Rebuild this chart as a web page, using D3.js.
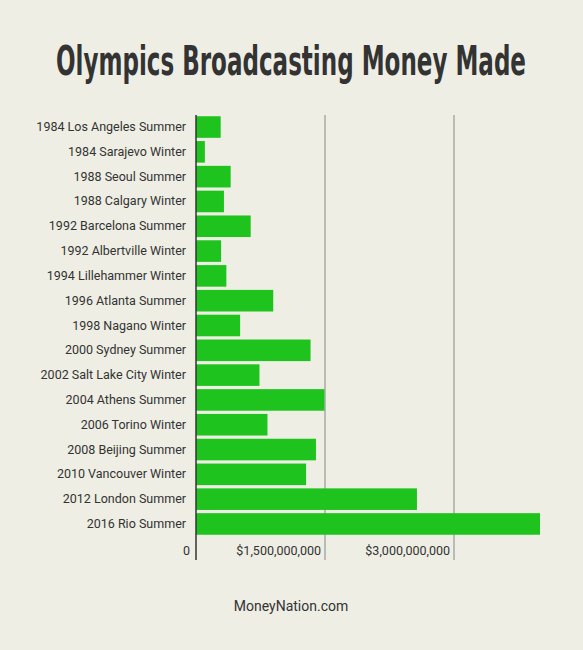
<!DOCTYPE html>
<html>
<head>
<meta charset="utf-8">
<style>body{margin:0;background:#eeeee4}</style>
</head>
<body>
<svg width="583" height="650"></svg>
<script src="https://d3js.org/d3.v7.min.js"></script>
<script>
var games = ["1984 Los Angeles Summer","1984 Sarajevo Winter","1988 Seoul Summer","1988 Calgary Winter",
  "1992 Barcelona Summer","1992 Albertville Winter","1994 Lillehammer Winter","1996 Atlanta Summer",
  "1998 Nagano Winter","2000 Sydney Summer","2002 Salt Lake City Winter","2004 Athens Summer",
  "2006 Torino Winter","2008 Beijing Summer","2010 Vancouver Winter","2012 London Summer","2016 Rio Summer"];
var money = [287e6,103e6,403e6,325e6,636e6,292e6,353e6,898e6,513e6,1332e6,738e6,1494e6,831e6,1395e6,1280e6,2569e6,4000e6];
var ticks = [0,1.5e9,3e9];

var svg = d3.select("svg");
svg.append("rect").attr("width",583).attr("height",650).attr("fill","#eeeee4");

var x = d3.scaleLinear().domain([0,1.5e9]).range([196,325]);
var y = d3.scaleBand().domain(games).range([115,536]).paddingInner(0.13).paddingOuter(0.05);

svg.append("text").attr("x",291).attr("y",75).attr("text-anchor","middle")
  .attr("font-family","DejaVu Sans Condensed, DejaVu Sans").attr("font-weight","bold")
  .attr("font-size",40).attr("fill","#333").attr("textLength",470).attr("lengthAdjust","spacingAndGlyphs")
  .text("Olympics Broadcasting Money Made");

svg.selectAll(".grid").data(ticks.slice(1)).enter().append("line")
  .attr("x1",d=>x(d)).attr("x2",d=>x(d)).attr("y1",115).attr("y2",560)
  .attr("stroke","#888").attr("stroke-width",1);

svg.selectAll(".bar").data(games).enter().append("rect")
  .attr("x",x(0)).attr("y",d=>y(d)).attr("height",y.bandwidth())
  .attr("width",(d,i)=>x(money[i])-x(0)).attr("fill","#1ec31e");

svg.append("line").attr("x1",x(0)).attr("x2",x(0)).attr("y1",115).attr("y2",560)
  .attr("stroke","#333").attr("stroke-width",1.5);

svg.selectAll(".lab").data(games).enter().append("text")
  .attr("x",186).attr("y",d=>y(d)+y.bandwidth()/2+4).attr("text-anchor","end")
  .attr("font-family","Roboto, sans-serif").attr("font-size",12.5).attr("fill","#333").text(d=>d);

var fmt = d=> d===0 ? "0" : "$"+d3.format(",")(d);
svg.selectAll(".tick").data(ticks).enter().append("text")
  .attr("x",d=> d===0 ? x(d)-6 : x(d)-4).attr("y",555).attr("text-anchor","end")
  .attr("font-family","Roboto, sans-serif").attr("font-size",12.5).attr("fill","#333").text(fmt);

svg.append("text").attr("x",291).attr("y",611).attr("text-anchor","middle")
  .attr("font-family","Roboto, sans-serif").attr("font-size",14).attr("fill","#333").text("MoneyNation.com");
</script>
</body>
</html>
